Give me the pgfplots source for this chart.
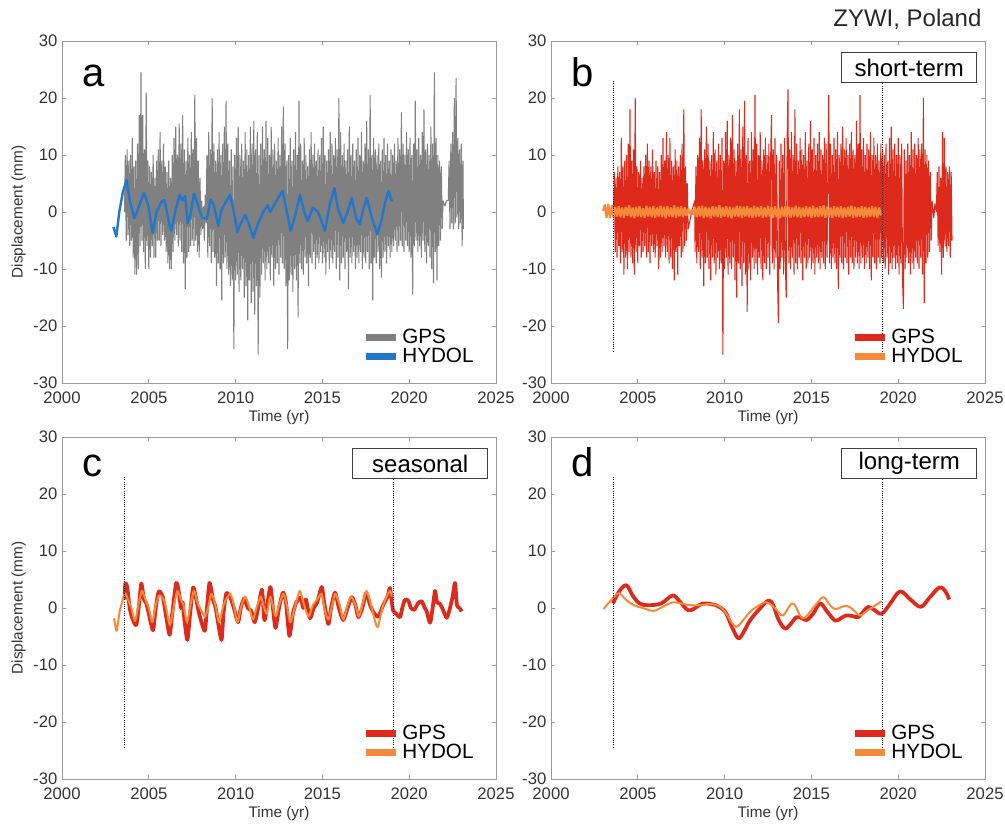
\documentclass[border=0pt]{standalone}
\usepackage{fontspec}
\setmainfont{Liberation Sans}
\usepackage{pgfplots}
\pgfplotsset{compat=1.18}
\definecolor{axgray}{HTML}{9A9A9A}
\definecolor{tickc}{HTML}{333333}
\definecolor{gpsgray}{HTML}{808080}
\definecolor{hblue}{HTML}{2277CC}
\definecolor{gpsred}{HTML}{DD2A1B}
\definecolor{horange}{HTML}{F58A3A}
\pgfplotsset{
 panel/.style={
  scale only axis, width=325.5pt, height=256.5pt,
  xmin=2000, xmax=2025, ymin=-30, ymax=30,
  xtick={2000,2005,2010,2015,2020,2025}, ytick={-30,-20,-10,0,10,20,30},
  tick align=inside, major tick length=3pt,
  axis line style={draw=axgray, line width=0.6pt}, tick style={draw=axgray, line width=0.6pt},
  /pgf/number format/assume math mode=true,
  /pgf/number format/1000 sep={},
  xticklabel style={font=\fontsize{12.5}{12.5}\selectfont, text=tickc, yshift=-3pt},
  yticklabel style={font=\fontsize{12.5}{12.5}\selectfont, text=tickc},
  xlabel={Time (yr)},
  xlabel style={font=\fontsize{11.5}{11.5}\selectfont, text=tickc, at={(axis description cs:0.5,-0.1)}, anchor=center},
  ylabel style={font=\fontsize{11.5}{11.5}\selectfont, text=tickc, at={(axis description cs:-0.1,0.5)}, anchor=center},
  legend style={at={(rel axis cs:0.955,0.045)}, anchor=south east, draw=none, fill=none,
    font=\fontsize{15.5}{15.5}\selectfont, row sep=-2pt, inner sep=0pt},
  legend cell align=left,
  legend image code/.code={\draw[#1,line width=5pt] (0pt,0pt) -- (23pt,0pt);},
 },
 noisy/.style={line width=0.8pt, line join=bevel},
 vdot/.style={black, densely dotted, line width=0.7pt, forget plot},
}
\newcommand{\plabel}[2]{\node[anchor=base west, inner sep=0pt, font=\fontsize{30}{30}\selectfont] at (rel axis cs:0.046,#2) {#1};}
\newcommand{\pbox}[1]{\node[draw=black!75, fill=white, line width=0.7pt, minimum width=101pt, minimum height=22.5pt, inner sep=0pt, anchor=north east, font=\fontsize{18}{18}\selectfont] at (rel axis cs:0.9816,0.9678) {#1};}

\pgfplotstableread{
x y
2002.96 -2.6
2003.13 -4.3
2003.3 0
2003.5 3.4
2003.72 5.6
2003.9 2
2004.17 -1.1
2004.5 1.5
2004.72 3.4
2004.98 1
2005.22 -3.7
2005.45 0
2005.73 1.8
2005.9 2.1
2006.22 -2.6
2006.3 -3.3
2006.55 0.5
2006.78 3
2006.95 2
2007.1 2.8
2007.24 -2
2007.4 -0.5
2007.6 3.2
2007.8 1.5
2008.06 -1
2008.35 -1.2
2008.56 2.2
2008.75 1.2
2009.0 -2.5
2009.2 0.5
2009.45 1.8
2009.68 3
2009.9 0
2010.1 -3.5
2010.3 -2
2010.55 -0.5
2010.75 -2
2011.02 -4.5
2011.3 -2
2011.6 0
2011.85 1.2
2012.0 0
2012.36 2
2012.71 3.7
2012.95 0
2013.17 -3.3
2013.4 -1
2013.71 3
2013.95 0
2014.16 -1.6
2014.45 0.8
2014.75 0
2015.15 -3.3
2015.4 1
2015.69 4.2
2015.9 0.5
2016.2 -1.9
2016.45 0
2016.69 2.5
2016.95 -1.2
2017.16 -2.1
2017.35 0.5
2017.55 2.5
2017.85 -1
2018.16 -3.9
2018.4 -1.5
2018.6 1.5
2018.8 3.7
2019.0 1.9
}\hydola

\pgfplotstableread{
x y
2003.60 0
2003.65 10
2003.70 -5
2003.75 11
2003.80 -4
2003.85 9
2003.90 -6
2003.95 10
2004.00 -5
2004.05 13
2004.10 -8
2004.15 8
2004.20 -11
2004.25 9
2004.30 -11
2004.35 12
2004.40 -10
2004.45 17
2004.50 -6
2004.55 24.5
2004.60 -5
2004.65 17
2004.70 -7
2004.75 11
2004.80 -10
2004.85 21
2004.90 -6
2004.95 9
2005.00 -10
2005.05 8
2005.10 -8
2005.15 7
2005.20 -6
2005.25 10
2005.30 -8
2005.35 6
2005.40 -8
2005.45 9
2005.50 -5
2005.55 11
2005.60 -5
2005.65 14
2005.70 -6
2005.75 9
2005.80 -4
2005.85 12
2005.90 -5
2005.95 8
2006.00 -7
2006.05 7
2006.10 -9
2006.15 9
2006.20 -10
2006.25 6
2006.30 -10
2006.35 10
2006.40 -7
2006.45 13
2006.50 -5
2006.55 15
2006.60 -4
2006.65 10
2006.70 -6
2006.75 15.5
2006.80 -5
2006.85 12
2006.90 -7
2006.95 17
2007.00 -9
2007.05 11
2007.10 -13.5
2007.15 9
2007.20 -8
2007.25 13
2007.30 -7
2007.35 10
2007.40 -6
2007.45 14
2007.50 -5
2007.55 11
2007.60 -6
2007.65 20.5
2007.70 -5
2007.75 13
2007.80 -7
2007.85 9
2007.90 -8
2007.95 6
2008.00 -4
2008.05 2
2008.10 -3
2008.15 1
2008.20 -5
2008.25 3
2008.30 -2
2008.35 10
2008.40 -8
2008.45 14
2008.50 -6
2008.55 11
2008.60 -9
2008.65 20
2008.70 -7
2008.75 12
2008.80 -8
2008.85 9
2008.90 -13
2008.95 11
2009.00 -9
2009.05 14
2009.10 -10
2009.15 10
2009.20 -15.5
2009.25 12
2009.30 -9
2009.35 15
2009.40 -8
2009.45 19.5
2009.50 -10
2009.55 12
2009.60 -11
2009.65 9
2009.70 -13
2009.75 11
2009.80 -12
2009.85 8
2009.90 -24
2009.95 10
2010.00 -12
2010.05 13
2010.10 -11
2010.15 15
2010.20 -14
2010.25 10
2010.30 -12
2010.35 12
2010.40 -10
2010.45 9
2010.50 -15
2010.55 14
2010.60 -13
2010.65 11
2010.70 -19
2010.75 10
2010.80 -12
2010.85 15
2010.90 -16
2010.95 12
2011.00 -14
2011.05 16
2011.10 -18
2011.15 11
2011.20 -13
2011.25 14
2011.30 -25
2011.35 10
2011.40 -15
2011.45 12
2011.50 -11
2011.55 15
2011.60 -9
2011.65 11
2011.70 -12
2011.75 16
2011.80 -10
2011.85 13
2011.90 -9
2011.95 10
2012.00 -12
2012.05 15
2012.10 -8
2012.15 11
2012.20 -13
2012.25 12
2012.30 -10
2012.35 9
2012.40 -9
2012.45 13
2012.50 -11
2012.55 10
2012.60 -8
2012.65 15
2012.70 -9
2012.75 18.5
2012.80 -10
2012.85 12
2012.90 -13
2012.95 9
2013.00 -24
2013.05 10
2013.10 -12
2013.15 13
2013.20 -11
2013.25 9
2013.30 -14
2013.35 11
2013.40 -10
2013.45 14
2013.50 -12
2013.55 10
2013.60 -18.5
2013.65 19.5
2013.70 -9
2013.75 12
2013.80 -10
2013.85 9
2013.90 -11
2013.95 13
2014.00 -8
2014.05 10
2014.10 -9
2014.15 8
2014.20 -13
2014.25 11
2014.30 -8
2014.35 14
2014.40 -9
2014.45 10
2014.50 -7
2014.55 12
2014.60 -10
2014.65 9
2014.70 -8
2014.75 11
2014.80 -9
2014.85 10
2014.90 -7
2014.95 13
2015.00 -9
2015.05 15
2015.10 -8
2015.15 10
2015.20 -11
2015.25 9
2015.30 -7
2015.35 11
2015.40 -10
2015.45 14
2015.50 -8
2015.55 12
2015.60 -9
2015.65 10
2015.70 -7
2015.75 13
2015.80 -10
2015.85 11
2015.90 -8
2015.95 20
2016.00 -12
2016.05 14
2016.10 -9
2016.15 10
2016.20 -8
2016.25 12
2016.30 -10
2016.35 9
2016.40 -7
2016.45 11
2016.50 -13.5
2016.55 15
2016.60 -8
2016.65 10
2016.70 -9
2016.75 12
2016.80 -7
2016.85 9
2016.90 -10
2016.95 11
2017.00 -8
2017.05 13
2017.10 -9
2017.15 10
2017.20 -7
2017.25 14
2017.30 -10
2017.35 9
2017.40 -8
2017.45 12
2017.50 -9
2017.55 16
2017.60 -7
2017.65 11
2017.70 -10
2017.75 20.5
2017.80 -9
2017.85 10
2017.90 -15.5
2017.95 13
2018.00 -8
2018.05 11
2018.10 -9
2018.15 10
2018.20 -7
2018.25 12
2018.30 -10
2018.35 9
2018.40 -11.5
2018.45 11
2018.50 -8
2018.55 13
2018.60 -7
2018.65 10
2018.70 -9
2018.75 12
2018.80 -6
2018.85 9
2018.90 -8
2018.95 11
2019.00 -7
2019.05 10
2019.10 -6
2019.15 12
2019.20 -5
2019.25 9
2019.30 -7
2019.35 13
2019.40 -6
2019.45 11
2019.50 -5
2019.55 17.5
2019.60 -6
2019.65 12
2019.70 -7
2019.75 10
2019.80 -5
2019.85 14
2019.90 -6
2019.95 11
2020.00 -7
2020.05 13
2020.10 -8
2020.15 10
2020.20 -14.5
2020.25 12
2020.30 -6
2020.35 19.5
2020.40 -5
2020.45 11
2020.50 -7
2020.55 13
2020.60 -6
2020.65 10
2020.70 -8
2020.75 14
2020.80 -5
2020.85 18
2020.90 -7
2020.95 11
2021.00 -9
2021.05 12
2021.10 -6
2021.15 10
2021.20 -8
2021.25 15
2021.30 -10
2021.35 12
2021.40 -12.5
2021.45 24.5
2021.50 -7
2021.55 13
2021.60 -12
2021.65 10
2021.70 -6
2021.75 9
2021.80 -5
2021.85 8
2021.90 -3
2021.95 2
2022.05 1
2022.15 2
2022.25 2
2022.30 9
2022.35 -3
2022.40 12
2022.45 -2
2022.50 14
2022.55 -3
2022.60 20
2022.65 -2
2022.70 23.5
2022.75 -1
2022.80 13
2022.85 -3
2022.90 11
2022.95 -2
2023.00 12
2023.05 -6
2023.10 9
2023.12 -3
}\gpsa

\pgfplotstableread{
x y
2003.60 0
2003.65 7
2003.70 -7
2003.75 6
2003.80 -8
2003.85 8
2003.90 -6
2003.95 7
2004.00 -9
2004.05 13
2004.10 -7
2004.15 8
2004.20 -11
2004.25 9
2004.30 -8
2004.35 10
2004.40 -10
2004.45 12
2004.50 -7
2004.55 18
2004.60 -8
2004.65 9
2004.70 -9
2004.75 11
2004.80 -11
2004.85 20
2004.90 -7
2004.95 8
2005.00 -9
2005.05 7
2005.10 -6
2005.15 9
2005.20 -8
2005.25 6
2005.30 -7
2005.35 8
2005.40 -6
2005.45 10
2005.50 -8
2005.55 12
2005.60 -7
2005.65 9
2005.70 -9
2005.75 8
2005.80 -6
2005.85 11
2005.90 -7
2005.95 7
2006.00 -8
2006.05 9
2006.10 -6
2006.15 8
2006.20 -10
2006.25 7
2006.30 -8
2006.35 10
2006.40 -7
2006.45 13
2006.50 -6
2006.55 9
2006.60 -8
2006.65 14
2006.70 -7
2006.75 10
2006.80 -9
2006.85 13
2006.90 -8
2006.95 9
2007.00 -10
2007.05 8
2007.10 -12
2007.15 11
2007.20 -7
2007.25 9
2007.30 -11
2007.35 8
2007.40 -6
2007.45 10
2007.50 -8
2007.55 12
2007.60 -7
2007.65 18
2007.70 -6
2007.75 8
2007.80 -5
2007.85 5
2007.90 -3
2008.10 0
2008.28 2
2008.30 -7
2008.35 8
2008.40 -9
2008.45 10
2008.50 -7
2008.55 13
2008.60 -10
2008.65 18
2008.70 -8
2008.75 9
2008.80 -13
2008.85 11
2008.90 -9
2008.95 15
2009.00 -8
2009.05 12
2009.10 -10
2009.15 9
2009.20 -12
2009.25 10
2009.30 -8
2009.35 14
2009.40 -9
2009.45 11
2009.50 -11
2009.55 9
2009.60 -8
2009.65 12
2009.70 -10
2009.75 10
2009.80 -9
2009.85 13
2009.90 -25
2009.95 9
2010.00 -10
2010.05 14
2010.10 -8
2010.15 16
2010.20 -11
2010.25 10
2010.30 -9
2010.35 13
2010.40 -10
2010.45 17
2010.50 -8
2010.55 11
2010.60 -12
2010.65 9
2010.70 -15
2010.75 12
2010.80 -9
2010.85 18
2010.90 -10
2010.95 11
2011.00 -13
2011.05 15
2011.10 -9
2011.15 19.5
2011.20 -11
2011.25 10
2011.30 -17.5
2011.35 13
2011.40 -10
2011.45 9
2011.50 -12
2011.55 14
2011.60 -8
2011.65 11
2011.70 -10
2011.75 20.5
2011.80 -9
2011.85 12
2011.90 -11
2011.95 10
2012.00 -8
2012.05 14
2012.10 -10
2012.15 9
2012.20 -12
2012.25 11
2012.30 -9
2012.35 13
2012.40 -10
2012.45 10
2012.50 -8
2012.55 12
2012.60 -11
2012.65 9
2012.70 17
2012.75 -9
2012.80 11
2012.85 -10
2012.90 13
2012.95 -8
2013.00 10
2013.05 -12
2013.10 -19.5
2013.15 9
2013.20 -10
2013.25 12
2013.30 -8
2013.35 10
2013.40 -11
2013.45 13
2013.50 -9
2013.55 -15
2013.60 12
2013.65 21.5
2013.70 -9
2013.75 11
2013.80 -10
2013.85 14
2013.90 -8
2013.95 10
2014.00 -11
2014.05 18
2014.10 -9
2014.15 12
2014.20 -10
2014.25 9
2014.30 -8
2014.35 13
2014.40 -9
2014.45 11
2014.50 -12
2014.55 10
2014.60 -8
2014.65 14
2014.70 -10
2014.75 9
2014.80 -9
2014.85 12
2014.90 -8
2014.95 16
2015.00 -10
2015.05 11
2015.10 -9
2015.15 13
2015.20 -11
2015.25 10
2015.30 -8
2015.35 12
2015.40 -9
2015.45 14
2015.50 -10
2015.55 11
2015.60 -8
2015.65 10
2015.70 -9
2015.75 13
2015.80 -10
2015.85 12
2015.90 -8
2016.00 20.5
2016.05 -9
2016.10 12
2016.15 -10
2016.20 10
2016.25 -8
2016.30 13
2016.35 -9
2016.40 11
2016.45 -10
2016.50 14
2016.55 -13.5
2016.60 10
2016.65 -8
2016.70 12
2016.75 -9
2016.80 15
2016.85 -10
2016.90 11
2016.95 -8
2017.00 13
2017.05 -9
2017.10 10
2017.15 -11
2017.20 12
2017.25 -8
2017.30 14
2017.35 -9
2017.40 11
2017.45 -10
2017.50 10
2017.55 -8
2017.60 16
2017.65 -9
2017.70 12
2017.75 -10
2017.80 20.5
2017.85 -9
2017.90 11
2017.95 -8
2018.00 13
2018.05 -10
2018.10 10
2018.15 -9
2018.20 12
2018.25 -8
2018.30 11
2018.35 -10
2018.40 14
2018.45 -12
2018.50 10
2018.55 -8
2018.60 13
2018.65 -9
2018.70 10
2018.75 -10
2018.80 12
2018.85 -8
2018.90 9
2018.95 -9
2019.00 12
2019.05 -8
2019.10 11
2019.15 -9
2019.20 10
2019.25 -10
2019.30 12
2019.35 -8
2019.40 9
2019.45 -11
2019.50 13
2019.55 -9
2019.60 15
2019.65 -10
2019.70 11
2019.75 -8
2019.80 12
2019.85 -10
2019.90 10
2019.95 -9
2020.00 13
2020.05 -11
2020.10 10
2020.15 -9
2020.20 12
2020.25 -12
2020.30 -17
2020.35 11
2020.40 -10
2020.45 9
2020.50 -8
2020.55 12
2020.60 -9
2020.65 10
2020.70 -11
2020.75 14
2020.80 -9
2020.85 11
2020.90 -10
2020.95 12
2021.00 -8
2021.05 10
2021.10 -9
2021.15 13
2021.20 -10
2021.25 11
2021.30 -8
2021.35 12
2021.40 -11
2021.45 20
2021.50 -16
2021.55 11
2021.60 -9
2021.65 10
2021.70 -8
2021.75 9
2021.80 -7
2021.85 7
2021.90 -5
2021.95 2
2022.05 -1
2022.12 1.5
2022.20 0
2022.25 7
2022.30 -6
2022.35 8
2022.40 -7
2022.45 6
2022.50 -11
2022.55 14
2022.60 -8
2022.65 13
2022.70 -6
2022.75 8
2022.80 -7
2022.85 7
2022.90 -6
2022.95 8
2023.00 -8
2023.05 7
2023.10 -5
}\gpsb

\pgfplotstableread{
x y
2003.0 0.2
2003.1 1.3
2003.2 -1.0
2003.3 1.4
2003.4 -1.1
2003.5 1.2
2003.6 -1.0
2003.7 0.9
2003.8 -0.8
2003.9 1.0
2004.0 -0.9
2004.1 0.8
2004.2 -1.0
2004.3 0.9
2004.4 -0.7
2004.5 1.2
2004.6 -0.9
2004.7 0.8
2004.8 -1.1
2004.9 0.9
2005.0 -0.8
2005.1 1.0
2005.2 -0.9
2005.3 0.7
2005.4 -1.0
2005.5 1.1
2005.6 -0.8
2005.7 0.9
2005.8 -0.9
2005.9 1.0
2006.0 -1.0
2006.1 0.8
2006.2 -0.8
2006.3 1.1
2006.4 -0.9
2006.5 0.9
2006.6 -1.1
2006.7 1.0
2006.8 -0.8
2006.9 0.8
2007.0 -0.9
2007.1 1.2
2007.2 -1.0
2007.3 0.9
2007.4 -0.8
2007.5 1.0
2007.6 -0.9
2007.7 0.8
2007.8 -0.7
2007.9 0.6
2008.0 -0.4
2008.1 0.4
2008.2 -0.5
2008.3 0.8
2008.4 -0.9
2008.5 1.0
2008.6 -0.8
2008.7 1.1
2008.8 -1.0
2008.9 0.9
2009.0 -0.9
2009.1 0.8
2009.2 -1.1
2009.3 1.0
2009.4 -0.8
2009.5 0.9
2009.6 -0.9
2009.7 1.2
2009.8 -1.0
2009.9 0.8
2010.0 -0.8
2010.1 1.0
2010.2 -0.9
2010.3 0.9
2010.4 -1.1
2010.5 0.8
2010.6 -0.8
2010.7 1.1
2010.8 -0.9
2010.9 1.0
2011.0 -1.0
2011.1 0.9
2011.2 -0.8
2011.3 1.0
2011.4 -0.9
2011.5 0.8
2011.6 -1.0
2011.7 1.1
2011.8 -0.9
2011.9 0.9
2012.0 -0.8
2012.1 1.0
2012.2 -1.0
2012.3 0.8
2012.4 -0.9
2012.5 1.1
2012.6 -0.8
2012.7 0.9
2012.8 -1.0
2012.9 1.0
2013.0 -0.9
2013.1 0.8
2013.2 -1.1
2013.3 0.9
2013.4 -0.8
2013.5 1.0
2013.6 -0.9
2013.7 0.9
2013.8 -1.0
2013.9 0.8
2014.0 -0.8
2014.1 1.1
2014.2 -0.9
2014.3 0.9
2014.4 -1.0
2014.5 0.8
2014.6 -0.9
2014.7 1.0
2014.8 -0.8
2014.9 0.9
2015.0 -1.0
2015.1 1.1
2015.2 -0.9
2015.3 0.8
2015.4 -0.9
2015.5 1.0
2015.6 -0.8
2015.7 1.2
2015.8 -1.0
2015.9 0.9
2016.0 -0.9
2016.1 0.8
2016.2 -1.0
2016.3 1.0
2016.4 -0.8
2016.5 0.9
2016.6 -0.9
2016.7 1.0
2016.8 -1.0
2016.9 0.8
2017.0 -0.9
2017.1 0.9
2017.2 -0.8
2017.3 1.1
2017.4 -1.0
2017.5 0.9
2017.6 -0.9
2017.7 0.8
2017.8 -0.8
2017.9 1.0
2018.0 -1.0
2018.1 0.9
2018.2 -0.9
2018.3 0.8
2018.4 -0.8
2018.5 1.0
2018.6 -0.9
2018.7 0.9
2018.8 -1.0
2018.9 0.8
2019.0 -0.6
}\hydolb

\pgfplotstableread{
x y
2003.60 1.5
2003.65 4.3
2003.75 3.8
2003.9 0
2004.05 -1.8
2004.28 -3
2004.45 1
2004.57 4.3
2004.72 1.5
2004.86 0.8
2005.0 -1
2005.24 -3.9
2005.4 0
2005.57 2.9
2005.8 2
2006.0 -1.5
2006.2 -4.7
2006.35 -1
2006.58 4.4
2006.75 2.5
2006.85 0
2006.95 1
2007.05 -2
2007.22 -5.6
2007.38 -1
2007.55 3.6
2007.7 2
2007.9 -1
2008.22 -4.0
2008.35 0
2008.5 4.4
2008.7 1.5
2008.85 0
2009.18 -5.6
2009.3 -1
2009.47 2.6
2009.7 1.8
2009.9 0
2010.14 -2.5
2010.3 0
2010.5 1.7
2010.7 0
2010.9 -0.5
2011.1 -2.5
2011.3 0
2011.52 3.2
2011.65 -2
2011.75 -1
2012.0 3.7
2012.15 0
2012.3 -3.5
2012.5 0
2012.73 2.7
2012.9 1
2013.1 -4.9
2013.3 -1
2013.5 1
2013.75 1.8
2013.9 0
2014.05 1.5
2014.28 -1.8
2014.5 0
2014.7 1
2014.96 3.7
2015.1 1
2015.34 -2.8
2015.5 0
2015.73 2.7
2015.95 0
2016.2 -2.1
2016.45 0
2016.69 1.9
2016.9 0.5
2017.07 -1.6
2017.3 0
2017.52 2.6
2017.75 0.5
2017.95 -0.8
2018.22 -1.5
2018.5 0.5
2018.75 2
2018.89 3.5
2019.0 1
2019.08 -0.5
2019.25 -1
2019.47 -1.6
2019.6 0
2019.75 1.4
2019.95 1.3
2020.1 0
2020.3 -0.3
2020.5 0.8
2020.72 1.2
2020.9 0
2021.0 -0.5
2021.2 -2.6
2021.35 0
2021.49 3.0
2021.6 1
2021.75 0.8
2021.9 0
2022.16 -1.7
2022.35 0
2022.5 2
2022.64 4.4
2022.75 0.5
2022.9 0
2023.02 -0.6
}\gpsc

\pgfplotstableread{
x y
2003.0 -1.8
2003.15 -4
2003.3 -1
2003.5 1.5
2003.65 2.5
2003.8 1.5
2004.0 0
2004.2 -2.3
2004.4 0.5
2004.6 3
2004.8 1.5
2005.0 0
2005.2 -2.5
2005.4 0.5
2005.6 2.2
2005.85 1.5
2006.0 0
2006.22 -3
2006.45 0.5
2006.65 3
2006.85 1.5
2007.0 0.5
2007.2 -2.5
2007.4 0.5
2007.6 3
2007.8 1
2008.0 -0.3
2008.25 -1.5
2008.45 0.5
2008.6 2.5
2008.8 1
2009.05 -2.5
2009.3 0.5
2009.55 2
2009.7 2.5
2009.9 0.5
2010.1 -2.5
2010.3 0
2010.55 2
2010.75 0.5
2011.0 -2
2011.2 0
2011.45 2
2011.6 0.5
2011.8 -1
2012.0 2
2012.3 -1.5
2012.5 0.5
2012.75 2.5
2012.95 0.5
2013.15 -2.5
2013.4 0
2013.7 3
2013.9 1
2014.2 -1.5
2014.45 0.5
2014.7 1.5
2014.95 2.5
2015.15 -0.5
2015.35 -2
2015.6 1
2015.75 2.5
2016.0 0.5
2016.2 -2
2016.45 0.5
2016.65 2
2016.9 0.5
2017.1 -1.5
2017.3 0.5
2017.55 3
2017.8 0.5
2018.05 -2.5
2018.2 -3.3
2018.45 0
2018.7 2
2018.9 3
2019.0 2
}\hydolc

\pgfplotstableread{
x y
2003.57 0.8
2003.9 2.8
2004.34 4
2004.7 2.2
2005.1 0.8
2005.6 0.5
2006.34 0.8
2007.0 2.2
2007.4 1.2
2007.9 -0.4
2008.3 0
2008.75 0.8
2009.5 0.5
2009.8 0
2010.1 -1
2010.45 -3.5
2010.79 -5.3
2011.1 -4.2
2011.46 -2.2
2012.0 -0.2
2012.52 1.3
2012.8 0.5
2013.1 -2
2013.48 -3.6
2013.8 -2.8
2014.15 -1.6
2014.45 -1.8
2014.73 -2.1
2015.1 -1
2015.5 0.8
2015.9 -0.6
2016.36 -2.2
2016.7 -1.8
2017.0 -1.3
2017.35 -1.4
2017.7 -1.6
2018.0 -0.6
2018.27 0.2
2018.6 -0.3
2019.04 -1
2019.5 0.6
2020.1 2.9
2020.7 1.5
2021.3 0.2
2021.8 1.8
2022.37 3.6
2022.7 3
2022.94 1.5
}\gpsd

\pgfplotstableread{
x y
2003.02 -0.2
2003.5 1.5
2003.9 2.6
2004.3 1.5
2004.76 0.5
2005.3 0
2005.9 -0.5
2006.5 0.3
2007.0 1.0
2007.5 0.8
2008.0 0.5
2008.6 0.5
2009.2 0.7
2009.7 0.3
2010.1 -1
2010.4 -2.5
2010.7 -3.3
2011.1 -2
2011.46 -0.7
2011.9 0.3
2012.4 1.0
2012.9 0
2013.35 -1.3
2013.93 0.8
2014.5 -1.8
2015.1 0
2015.66 1.9
2016.0 0.8
2016.36 -0.2
2017.0 0.4
2017.4 -0.3
2017.8 -1.3
2018.2 -0.5
2018.6 0.3
2019.04 1.2
}\hydold

\pgfplotstableread{
x y
2003.6 -24.5
2003.6 23
}\vlineA
\pgfplotstableread{
x y
2019.08 -24.5
2019.08 23
}\vlineB

\begin{document}
\begin{tikzpicture}
\useasboundingbox (0,0) rectangle (753.75pt,-620.25pt);

% panel a
\begin{axis}[panel, name=pa, at={(46.5pt,-287.25pt)}, anchor=south west, ylabel={Displacement (mm)}]
\addplot[gpsgray, noisy] table {\gpsa};
\addlegendentry{GPS}
\addplot[hblue, line width=1.8pt, line join=round] table {\hydola};
\addlegendentry{HYDOL}
\plabel{a}{0.868}
\end{axis}

% panel b
\begin{axis}[panel, name=pb, at={(413.25pt,-287.25pt)}, anchor=south west]
\addplot[gpsred, noisy] table {\gpsb};
\addlegendentry{GPS}
\addplot[horange, line width=1.6pt, line join=bevel] table {\hydolb};
\addlegendentry{HYDOL}
\addplot[vdot] table {\vlineA};
\addplot[vdot] table {\vlineB};
\plabel{b}{0.868}
\pbox{short-term}
\end{axis}
\node[anchor=base east, inner sep=0pt, font=\fontsize{18}{18}\selectfont, text=black!85] at ([xshift=-2.5pt, yshift=10.7pt]pb.north east) {ZYWI, Poland};

% panel c
\begin{axis}[panel, name=pc, at={(46.5pt,-584.25pt)}, anchor=south west, ylabel={Displacement (mm)}]
\addplot[gpsred, line width=2.8pt, line join=round, smooth, tension=0.4] table {\gpsc};
\addlegendentry{GPS}
\addplot[horange, line width=1.5pt, line join=round, smooth, tension=0.4] table {\hydolc};
\addlegendentry{HYDOL}
\addplot[vdot] table {\vlineA};
\addplot[vdot] table {\vlineB};
\plabel{c}{0.886}
\pbox{seasonal}
\end{axis}

% panel d
\begin{axis}[panel, name=pd, at={(413.25pt,-584.25pt)}, anchor=south west]
\addplot[gpsred, line width=2.8pt, line join=round, smooth, tension=0.6] table {\gpsd};
\addlegendentry{GPS}
\addplot[horange, line width=1.5pt, line join=round, smooth, tension=0.6] table {\hydold};
\addlegendentry{HYDOL}
\addplot[vdot] table {\vlineA};
\addplot[vdot] table {\vlineB};
\plabel{d}{0.886}
\pbox{long-term}
\end{axis}
\end{tikzpicture}
\end{document}
